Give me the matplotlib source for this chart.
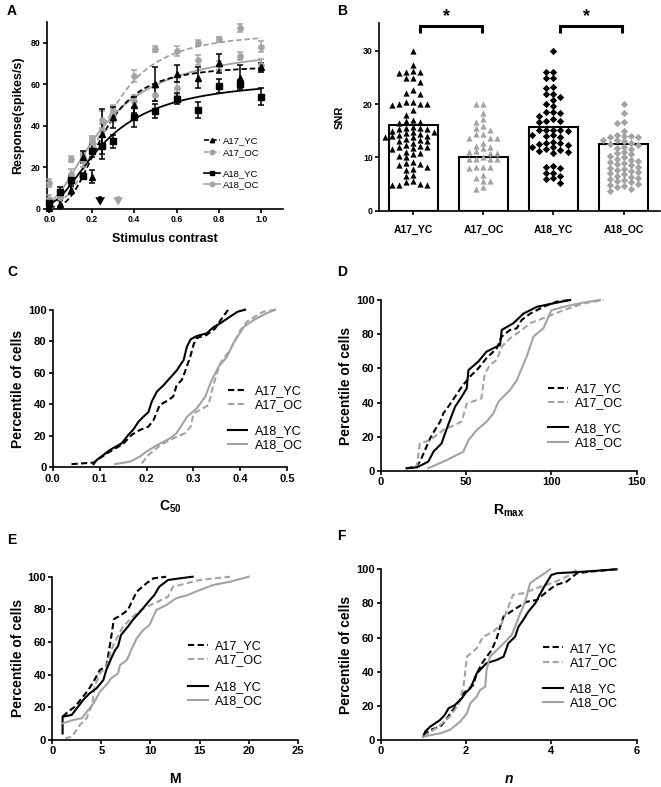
"""
对比度响应曲线 + SNR 柱状散点 + 四个累积分布图 (A-F)
"""
import numpy as np
import matplotlib
matplotlib.use('Agg')
import matplotlib.pyplot as plt
from matplotlib.lines import Line2D

plt.rcParams['font.family'] = ['Liberation Sans', 'DejaVu Sans']
plt.rcParams['font.weight'] = 'bold'
plt.rcParams['axes.labelweight'] = 'bold'
plt.rcParams['mathtext.fontset'] = 'custom'
plt.rcParams['mathtext.rm'] = 'Liberation Sans'
plt.rcParams['mathtext.bf'] = 'Liberation Sans:bold'
plt.rcParams['mathtext.it'] = 'Liberation Sans:italic:bold'

GREY = '#a3a3a3'
groups = ['A17_YC', 'A17_OC', 'A18_YC', 'A18_OC']

# ---------------- A: 对比度响应 ----------------
contrast = [0, 0.05, 0.1, 0.16, 0.2, 0.25, 0.3, 0.4, 0.5, 0.6, 0.7, 0.8, 0.9, 1.0]
resp_a17_yc = [0.5, 2.5, 9, 25, 15.5, 36, 44, 50, 60, 65, 63, 70, 63, 68]
err_a17_yc = [1, 2, 2, 3, 3, 12, 5, 4, 8, 4, 5, 4.5, 6, 2]
resp_a17_oc = [12.5, 6, 24, 23, 33, 43, 47, 64, 77, 76, 80, 81.5, 87, 78]
err_a17_oc = [2, 2, 1.5, 3, 2, 4, 3, 3, 1.5, 2.5, 1, 1.2, 2, 2.5]
resp_a18_yc = [3, 8, 14, 16, 28, 30.5, 32.5, 44, 47, 53, 47.5, 59, 60, 54]
err_a18_yc = [2, 2.5, 2, 1.5, 3, 4, 3, 4.5, 3.5, 2.5, 4, 3.5, 2, 4]
resp_a18_oc = [5, 6, 17, 25, 32, 38, 45, 52, 55, 58, 71.5, 69, 73.5, 69]
err_a18_oc = [1.5, 2, 2, 2, 2, 3, 3, 3, 3, 3, 2.5, 2, 2, 3]

# Naka-Rushton 拟合参数 (Rmax, C50, n, 基线)
fit_rmax = [68, 82, 60, 75]
fit_c50 = [0.25, 0.28, 0.27, 0.27]
fit_n = [2.8, 2.6, 1.8, 1.7]
fit_base = [1, 3, 3, 4]
arrow_x = [0.24, 0.325]   # 平均C50 (YC黑, OC灰)

# ---------------- B: SNR ----------------
snr_mean = [16.1, 10.0, 15.8, 12.5]
snr_a17_yc = [30.0, 27.3, 26.3, 26.0, 26.0, 25.8, 24.9, 24.9, 24.1, 22.6, 22.2, 21.9,
              20.4, 20.4, 20.0, 20.0, 20.0, 19.9, 18.9, 18.0, 17.0, 16.9, 16.6, 16.4,
              15.8, 15.6, 15.5, 15.4, 15.3, 15.0, 14.8, 14.7, 14.6, 14.5, 14.3, 14.0,
              14.0, 13.9, 13.8, 13.5, 13.2, 13.1, 13.0, 12.8, 12.4, 12.2, 12.0, 11.9,
              11.8, 11.6, 11.0, 10.9, 10.6, 10.2, 10.0, 9.1, 9.0, 8.8, 8.6, 8.2, 7.9,
              7.7, 6.7, 6.6, 5.5, 5.3, 4.9, 4.9, 4.8, 5.0]
snr_a17_oc = [20.0, 20.0, 18.3, 17.2, 16.7, 15.9, 15.6, 15.2, 14.5, 14.5, 13.6, 13.6,
              13.6, 12.8, 12.2, 12.0, 11.7, 11.2, 11.1, 10.8, 10.8, 10.0, 9.8, 9.7,
              9.7, 9.7, 8.3, 8.3, 8.3, 8.0, 6.7, 6.1, 5.6, 5.6, 4.5, 4.1]
snr_a18_yc = [30.0, 26.0, 26.0, 25.0, 25.0, 23.2, 23.0, 21.9, 21.9, 21.4, 20.8, 20.0,
              19.7, 18.5, 18.5, 18.3, 17.7, 17.2, 16.9, 16.9, 16.6, 15.2, 15.2, 15.2,
              15.1, 15.0, 14.3, 14.2, 14.0, 13.9, 12.9, 12.8, 12.7, 12.5, 12.3, 12.0,
              11.9, 11.6, 11.4, 11.3, 11.0, 10.8, 8.4, 8.3, 8.1, 7.1, 7.0, 6.6, 6.1,
              6.0, 5.2]
snr_a18_oc = [20.0, 18.3, 16.6, 16.4, 15.0, 14.2, 14.1, 14.0, 13.9, 13.8, 13.3, 13.2,
              13.0, 12.8, 12.5, 12.3, 12.0, 11.8, 11.6, 11.0, 10.8, 10.6, 10.3, 10.0,
              9.8, 9.6, 9.4, 9.2, 9.0, 8.8, 8.5, 8.3, 8.1, 7.8, 7.6, 7.4, 7.2, 7.0,
              6.8, 6.6, 6.4, 6.2, 6.0, 5.8, 5.5, 5.3, 5.1, 4.9, 4.6, 4.4, 4.1, 3.7]

# ---------------- C: C50 累积分布 ----------------
c50_a17_yc_x = [0.04, 0.087, 0.1, 0.122, 0.15, 0.168, 0.186, 0.204, 0.215, 0.228, 0.247,
                0.257, 0.264, 0.275, 0.282, 0.294, 0.301, 0.307, 0.328, 0.346, 0.357, 0.374]
c50_a17_yc_y = [2, 3, 5.7, 10, 14.8, 20.5, 23.7, 25.8, 30, 39.5, 42.7, 45, 52, 55.4, 60.7,
                71, 78.6, 82, 84, 88, 93, 100]
c50_a18_yc_x = [0.087, 0.094, 0.122, 0.147, 0.161, 0.172, 0.183, 0.193, 0.204, 0.211, 0.222,
                0.236, 0.254, 0.265, 0.272, 0.279, 0.286, 0.294, 0.307, 0.328, 0.343, 0.357,
                0.378, 0.394, 0.41]
c50_a18_yc_y = [2, 4.7, 11, 15.2, 20.5, 24, 29, 32, 35, 41.6, 48, 52, 58, 61.7, 65, 68, 76.5,
                81.2, 83.3, 85, 89, 91.3, 95.6, 98.7, 100]
c50_a17_oc_x = [0.19, 0.204, 0.229, 0.257, 0.282, 0.294, 0.3, 0.314, 0.332, 0.343, 0.357,
                0.378, 0.4, 0.414, 0.431, 0.449, 0.478]
c50_a17_oc_y = [2.5, 7.8, 14, 18.4, 21.6, 25.8, 34, 36.4, 39.5, 53, 66, 74.4, 87, 92.4, 95.6,
                98.7, 100]
c50_a18_oc_x = [0.133, 0.165, 0.186, 0.2, 0.222, 0.25, 0.264, 0.286, 0.307, 0.325, 0.339,
                0.354, 0.371, 0.385, 0.407, 0.428, 0.442, 0.456, 0.474]
c50_a18_oc_y = [2, 3.6, 6.8, 10, 14, 18.4, 21.6, 32, 37.4, 44.8, 55.4, 64, 70, 78.6, 89, 93.4,
                95.6, 97.7, 100]

# ---------------- D: Rmax 累积分布 ----------------
rmax_a17_yc_x = [15.2, 20.7, 23, 26, 28.9, 31.8, 34.8, 36.7, 39.6, 43.6, 47.5, 52.3, 57.2, 62,
                 68, 70.9, 75.8, 79.7, 82.6, 87.5, 95.3, 103, 111]
rmax_a17_yc_y = [1.6, 2.5, 5.5, 12.3, 19, 24, 28.8, 33.7, 37.6, 43.5, 49.3, 55.2, 60, 66, 71.7,
                 78.6, 82.5, 83.4, 88.3, 92, 96, 99, 100]
rmax_a18_yc_x = [15.2, 21, 24, 27.9, 30.9, 35.7, 37.7, 40.6, 43.6, 47.5, 50.4, 51.4, 57.2, 62,
                 69.9, 70.9, 77.7, 83.6, 91.4, 101, 111]
rmax_a18_yc_y = [1.6, 2.1, 3.5, 5.5, 11.3, 16.2, 22, 29.8, 37.6, 43.5, 48.3, 59, 64, 69.8,
                 73.7, 82.5, 86.4, 92, 96, 98, 100]
rmax_a17_oc_x = [21, 23, 28.9, 36.7, 43.6, 47.5, 50.4, 59, 61, 64, 68, 70.9, 75.8, 82.6, 87.5,
                 97, 107, 118.8, 130.5]
rmax_a17_oc_y = [1.6, 16.2, 18, 24, 27, 29, 39.4, 42.5, 57, 62, 65, 72.7, 77.6, 82.5, 86.4, 90,
                 94, 98, 100]
rmax_a18_oc_x = [27.9, 38.7, 48.4, 51.4, 56.3, 62, 66, 69, 71.9, 75.8, 79.7, 85.5, 89.5, 95.3,
                 100, 107, 118.8, 128.5]
rmax_a18_oc_y = [1.6, 6.4, 11.3, 18, 24, 28.8, 33.7, 40.5, 43.5, 47.4, 53, 66.8, 78.6, 83.4,
                 94, 96, 98.5, 100]

# ---------------- E: M 累积分布 ----------------
m_a17_yc_x = [1.05, 1.6, 2.3, 3, 3.66, 4.2, 4.85, 5.5, 5.7, 6, 6.27, 7, 7.7, 8.1, 8.6, 9.6,
              10.3, 11.6]
m_a17_yc_y = [14.3, 17.3, 20.4, 25.5, 30.6, 35.7, 42.9, 45, 52, 63, 74, 76.5, 79.6, 84.7,
              90.8, 96, 99, 100]
m_a18_yc_x = [1.05, 1.05, 1.97, 2.5, 3.15, 3.8, 4.5, 5.2, 5.5, 6, 6.4, 6.7, 7, 7.7, 8.2, 9.1,
              9.8, 10.4, 10.9, 11.8, 13, 14.3]
m_a18_yc_y = [4, 14.3, 15.3, 19.4, 24.5, 28.6, 31.6, 36.7, 42.9, 50, 55, 57.5, 64.3, 69.4,
              73.5, 79.6, 84.7, 88.8, 93.9, 98, 99, 100]
m_a17_oc_x = [1.3, 2, 2.8, 3.5, 4.1, 4.3, 4.85, 5.5, 6.2, 7.2, 8.2, 9.25, 10.4, 11.8, 12.3,
              13.7, 15, 18.1]
m_a17_oc_y = [1, 2, 9.2, 13.3, 22.4, 32.6, 40.8, 45, 58, 69.4, 75.5, 80.6, 83.7, 87.8, 93.9,
              96, 98, 100]
m_a18_oc_x = [1.05, 2.1, 3, 3.66, 4.2, 4.85, 5.5, 6, 6.7, 6.9, 7.6, 8.1, 8.6, 9.25, 9.9, 10.6,
              11.6, 12.6, 13.8, 15, 16.4, 18.1, 20]
m_a18_oc_y = [10.2, 12.2, 13.3, 18.4, 22.4, 29.6, 33.7, 37.8, 40.8, 45.9, 49, 56, 62.2, 67.3,
              70.4, 79.6, 82.6, 86.7, 88.8, 91.8, 94.9, 96.9, 100]

# ---------------- F: n 累积分布 ----------------
n_a17_yc_x = [1, 1.16, 1.39, 1.5, 1.66, 1.82, 1.94, 2.17, 2.25, 2.4, 2.6, 2.72, 2.8, 2.88, 3.1,
              3.42, 3.66, 3.9, 4.1, 4.36, 4.6, 4.9, 5.5]
n_a17_yc_y = [2.9, 5.9, 7.8, 10.7, 16.6, 21.5, 27.3, 32.2, 39, 45.9, 52.7, 59.6, 66.4, 72.3,
              76, 81, 82, 87, 90.8, 92.8, 97.7, 98.6, 100]
n_a18_yc_x = [1, 1.04, 1.16, 1.39, 1.5, 1.59, 1.74, 1.9, 1.98, 2.1, 2.17, 2.25, 2.48, 2.72,
              2.88, 2.99, 3.15, 3.23, 3.34, 3.46, 3.62, 3.81, 4.0, 4.13, 4.75, 5.53]
n_a18_yc_y = [2, 4.9, 7.8, 11.7, 14.6, 18.6, 20.5, 24.4, 27.3, 30.3, 34.2, 39, 45, 46.9, 48.8,
              56.6, 60.5, 66.4, 70.3, 75.2, 80, 88.9, 96.7, 97.7, 98.6, 100]
n_a17_oc_x = [1, 1.35, 1.62, 1.82, 1.94, 2.02, 2.25, 2.4, 2.64, 2.84, 3.1, 3.34, 3.66, 4.1,
              4.44, 4.6]
n_a17_oc_y = [2, 7.8, 13.7, 20.5, 31.2, 48.8, 53.7, 60.5, 63.5, 68.4, 85, 86, 89, 92.8, 96.7,
              100]
n_a18_oc_x = [1, 1.39, 1.62, 1.86, 2.02, 2.1, 2.25, 2.33, 2.45, 2.48, 2.56, 2.72, 2.88, 3.07,
              3.15, 3.27, 3.34, 3.42, 3.5, 3.66, 3.9, 3.97]
n_a18_oc_y = [2, 3.9, 5.9, 10.7, 15.6, 21.5, 25.4, 29.3, 31.2, 41, 48.8, 52.7, 56.6, 61.5,
              66.4, 74.2, 78, 84, 91.8, 94.7, 98.6, 100]


def fig_rect(l, t, r, b):
    # 像素坐标 -> 图坐标
    return [l / 661, 1 - b / 787, (r - l) / 661, (b - t) / 787]


def prism_style(ax, size):
    for s in ['top', 'right']:
        ax.spines[s].set_visible(False)
    for s in ['left', 'bottom']:
        ax.spines[s].set_linewidth(1.2)
    ax.tick_params(direction='out', length=3, width=1.2, labelsize=size, pad=1.5)


def bold_ticks(ax):
    for lab in ax.get_xticklabels() + ax.get_yticklabels():
        lab.set_fontweight('bold')


def swarm(vals, dx, dy):
    # 简单的蜂群排列，避免点重叠
    placed = []
    offs = []
    cands = [0]
    for i in range(1, 15):
        cands += [-i * dx, i * dx]
    for v in vals:
        for c in cands:
            if all(((c - px) / dx) ** 2 + ((v - py) / dy) ** 2 >= 1 for px, py in placed):
                break
        placed.append((c, v))
        offs.append(c)
    return np.array(offs)


def naka(c, rmax, c50, n, b):
    return rmax * c ** n / (c ** n + c50 ** n) + b


def two_legends(ax, handles, labels, x, y1, y2, size, hl, htp, ls):
    fig = ax.figure
    leg1 = ax.legend(handles[:2], labels[:2], loc='center left',
                     bbox_to_anchor=(x / 661, 1 - y1 / 787), bbox_transform=fig.transFigure,
                     frameon=False, borderpad=0, borderaxespad=0, handlelength=hl,
                     handletextpad=htp, labelspacing=ls, prop={'size': size, 'weight': 'normal'})
    ax.add_artist(leg1)
    ax.legend(handles[2:], labels[2:], loc='center left',
              bbox_to_anchor=(x / 661, 1 - y2 / 787), bbox_transform=fig.transFigure,
              frameon=False, borderpad=0, borderaxespad=0, handlelength=hl,
              handletextpad=htp, labelspacing=ls, prop={'size': size, 'weight': 'normal'})


fig = plt.figure(figsize=(6.61, 7.87), dpi=100)

# ======== A ========
axA = fig.add_axes(fig_rect(47.2, 21.7, 282.5, 209))
prism_style(axA, 6.3)
resp = [resp_a17_yc, resp_a17_oc, resp_a18_yc, resp_a18_oc]
errs = [err_a17_yc, err_a17_oc, err_a18_yc, err_a18_oc]
cols = ['k', GREY, 'k', GREY]
marks = ['^', 'o', 's', 'o']
lss = [(0, (3, 1.6)), (0, (3, 1.6)), '-', '-']
cc = np.linspace(0, 1, 200)
order = [1, 3, 0, 2]
for i in order:
    axA.errorbar(contrast, resp[i], yerr=errs[i], fmt=marks[i], color=cols[i], ms=3.8,
                 elinewidth=1.1, capsize=2.5, capthick=1.1, clip_on=False, zorder=3)
    axA.plot(cc, naka(cc, fit_rmax[i], fit_c50[i], fit_n[i], fit_base[i]), color=cols[i],
             lw=1.3, ls=lss[i], zorder=2)
for x, col in zip(arrow_x, ['k', GREY]):
    axA.annotate('', xy=(x, 0.3), xytext=(x, 7.5),
                 arrowprops=dict(arrowstyle='simple,head_width=0.7,head_length=0.6,tail_width=0.25',
                                 color=col, lw=0), zorder=4)
axA.set_xlim(-0.01, 1.1)
axA.set_ylim(0, 90)
axA.set_xticks([0, 0.2, 0.4, 0.6, 0.8, 1.0])
axA.set_xticklabels(['0.0', '0.2', '0.4', '0.6', '0.8', '1.0'])
axA.set_yticks([0, 20, 40, 60, 80])
bold_ticks(axA)
axA.set_xlabel('Stimulus contrast', fontsize=9, fontweight='bold', labelpad=6)
axA.set_ylabel('Response(spikes/s)', fontsize=9, fontweight='bold', labelpad=5)
hA = [Line2D([], [], color=cols[i], ls=lss[i], marker=marks[i], ms=3.2, lw=1.2) for i in range(4)]
two_legends(axA, hA, groups, 204, 146.7, 179.2, 6.8, 1.7, 0.3, 0.27)
fig.text(7 / 661, 1 - 11 / 787, 'A', fontsize=10, fontweight='bold', va='center')

# ======== B ========
axB = fig.add_axes(fig_rect(379, 23.3, 660, 210.7))
prism_style(axB, 6.3)
pos = np.arange(4)
axB.bar(pos, snr_mean, width=0.69, color='white', edgecolor='k', lw=1.5, zorder=1)
snr = [snr_a17_yc, snr_a17_oc, snr_a18_yc, snr_a18_oc]
bmarks = ['^', '^', 'D', 'D']
bsize = [20, 20, 14, 14]
for i in range(4):
    vals = np.array(sorted(snr[i], reverse=True))
    off = swarm(vals, 0.1, 1.0)
    axB.scatter(pos[i] + off, vals, marker=bmarks[i], s=bsize[i], color=cols[i],
                linewidths=0, zorder=3)
for a, b in [(0, 1), (2, 3)]:
    axB.plot([pos[a] + 0.09, pos[a] + 0.09, pos[b] - 0.02, pos[b] - 0.02],
             [33.4, 34.6, 34.6, 33.4], color='k', lw=2.2, clip_on=False,
             solid_joinstyle='miter', solid_capstyle='butt')
    axB.text((pos[a] + pos[b]) / 2 - 0.03, 36.4, '*', fontsize=13, fontweight='bold',
             ha='center', va='center')
axB.set_xlim(-0.49, 3.52)
axB.set_ylim(0, 35.2)
axB.set_yticks([0, 10, 20, 30])
axB.set_xticks(pos)
axB.set_xticklabels(groups, fontsize=7.5)
bold_ticks(axB)
axB.tick_params(axis='x', pad=7)
axB.set_ylabel('SNR', fontsize=8, fontweight='bold', labelpad=13)
fig.text(337 / 661, 1 - 11 / 787, 'B', fontsize=10, fontweight='bold', va='center')

# ======== C-F ========
cdf_styles = [dict(color='k', ls=(0, (3, 1.6))), dict(color=GREY, ls=(0, (3, 1.6))),
              dict(color='k', ls='-'), dict(color=GREY, ls='-')]
panels = [
    ('C', fig_rect(52.7, 309.7, 287.3, 467.3), (7, 272),
     [(c50_a17_yc_x, c50_a17_yc_y), (c50_a17_oc_x, c50_a17_oc_y),
      (c50_a18_yc_x, c50_a18_yc_y), (c50_a18_oc_x, c50_a18_oc_y)],
     (0, 0.5), [0, 0.1, 0.2, 0.3, 0.4, 0.5], r'$\mathbf{C_{50}}$', (227.7, 398.3, 438.2)),
    ('D', fig_rect(380.7, 300, 636.7, 471), (337, 272),
     [(rmax_a17_yc_x, rmax_a17_yc_y), (rmax_a17_oc_x, rmax_a17_oc_y),
      (rmax_a18_yc_x, rmax_a18_yc_y), (rmax_a18_oc_x, rmax_a18_oc_y)],
     (0, 150), [0, 50, 100, 150], r'$\mathbf{R_{max}}$', (548.3, 396.2, 435.8)),
    ('E', fig_rect(52.3, 576.7, 297.7, 740), (7, 540),
     [(m_a17_yc_x, m_a17_yc_y), (m_a17_oc_x, m_a17_oc_y),
      (m_a18_yc_x, m_a18_yc_y), (m_a18_oc_x, m_a18_oc_y)],
     (0, 25), [0, 5, 10, 15, 20, 25], 'M', (188.3, 653.3, 694.2)),
    ('F', fig_rect(380.7, 569.3, 636.7, 740), (337, 536),
     [(n_a17_yc_x, n_a17_yc_y), (n_a17_oc_x, n_a17_oc_y),
      (n_a18_yc_x, n_a18_yc_y), (n_a18_oc_x, n_a18_oc_y)],
     (0, 6), [0, 2, 4, 6], 'n', (543.3, 655.8, 696.2)),
]
for letter, rect, lpos, curves, xlim, xticks, xlabel, legpos in panels:
    ax = fig.add_axes(rect)
    prism_style(ax, 8)
    for (xs, ys), st in zip(curves, cdf_styles):
        ax.plot(xs, ys, lw=1.5, clip_on=False, **st)
    ax.set_xlim(*xlim)
    ax.set_ylim(0, 100)
    ax.set_xticks(xticks)
    if letter == 'C':
        ax.set_xticklabels(['%.1f' % t for t in xticks])
    ax.set_yticks([0, 20, 40, 60, 80, 100])
    bold_ticks(ax)
    ax.set_ylabel('Percentile of cells', fontsize=10, fontweight='bold', labelpad=2)
    if letter == 'F':
        ax.set_xlabel(xlabel, fontsize=10, fontweight='bold', labelpad=11, fontstyle='italic')
    else:
        ax.set_xlabel(xlabel, fontsize=10, fontweight='bold', labelpad=11)
    h = [Line2D([], [], lw=1.5, **st) for st in cdf_styles]
    two_legends(ax, h, groups, legpos[0], legpos[1], legpos[2], 9, 1.55, 0.6, 0.18)
    fig.text(lpos[0] / 661, 1 - lpos[1] / 787, letter, fontsize=10, fontweight='bold',
             va='center')

fig.savefig('out.png', dpi=100)
